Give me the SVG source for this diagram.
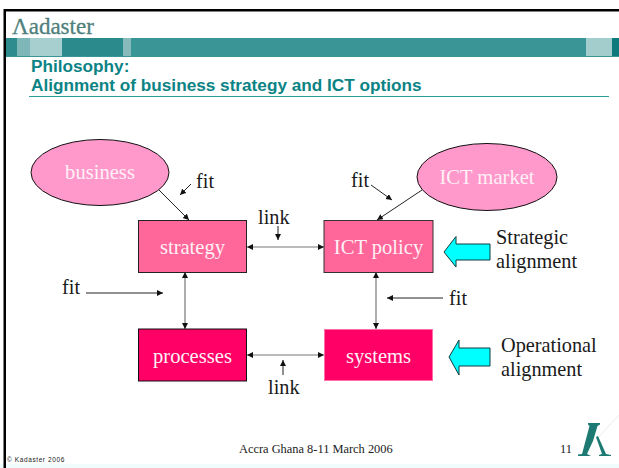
<svg xmlns="http://www.w3.org/2000/svg" width="619" height="468" viewBox="0 0 619 468">
<style>
.n{font-family:"Liberation Serif","Times New Roman",serif;font-size:20.6px;fill:#fff0f6;text-anchor:middle}
.t{font-family:"Liberation Serif","Times New Roman",serif;font-size:20.3px;fill:#1a1a1a}
.h{font-family:"Liberation Sans",Arial,sans-serif;font-size:17.2px;font-weight:bold;fill:#0b8385}
.f{font-family:"Liberation Serif","Times New Roman",serif;font-size:12.4px;fill:#222}
.c{stroke:#222;stroke-width:1;fill:none;marker-end:url(#a)}
.d{stroke:#777;stroke-width:1.2;fill:none;marker-start:url(#b);marker-end:url(#a)}
.bl{fill:#00ffff;stroke:#0c3c3c;stroke-width:1}
</style>
<defs>
<marker id="a" markerUnits="userSpaceOnUse" markerWidth="7" markerHeight="7" refX="6" refY="3" orient="auto"><path d="M0 0L6 3L0 6z" fill="#111"/></marker>
<marker id="b" markerUnits="userSpaceOnUse" markerWidth="7" markerHeight="7" refX="0" refY="3" orient="auto"><path d="M6 0L0 3L6 6z" fill="#111"/></marker>
</defs>
<rect width="619" height="468" fill="#fff"/>
<rect x="0" y="464" width="619" height="4" fill="#f0fcfc"/>
<g id="frame">
<rect x="4" y="9" width="615" height="2.500" fill="#000"/>
<rect x="3.500" y="9" width="2.500" height="459" fill="#000"/>
</g>
<g id="header">
<text x="12" y="34" font-family="'Liberation Serif',serif" font-size="23" fill="#4f7f7c" stroke="#4f7f7c" stroke-width="0.3">Λadaster</text>
<rect x="6" y="38" width="613" height="19" fill="#3a9597"/>
<rect x="6" y="38" width="11" height="18" fill="#2f8c8e"/>
<rect x="17" y="38" width="13" height="18" fill="#7fb6b8"/>
<rect x="30" y="38" width="32" height="18" fill="#a8cfd0"/>
<rect x="62" y="38" width="61" height="18" fill="#2a8a8c"/>
<rect x="123" y="38" width="8" height="18" fill="#86babb"/>
<rect x="586" y="38" width="26" height="18" fill="#a3cccc"/>
<rect x="612" y="38" width="7" height="18" fill="#0f7a7c"/>
<text class="h" x="31" y="72">Philosophy:</text>
<text class="h" x="31" y="91">Alignment of business strategy and ICT options</text>
<rect x="29" y="96" width="580" height="1" fill="#2a9d9d"/>
</g>
<g id="connectors">
<path class="c" d="M159 190L189 220"/>
<path class="c" d="M191 184L180 195"/>
<path class="c" d="M422 190L377 220"/>
<path class="c" d="M371 185L392 200"/>
<path class="c" d="M278 226L278 240"/>
<path class="d" d="M247 247L324 247"/>
<path class="d" d="M185 272L185 329"/>
<path class="d" d="M376 272L376 329"/>
<path class="c" d="M86 293L163 293"/>
<path class="c" d="M443 298L387 298"/>
<path class="d" d="M247 355L324 355"/>
<path class="c" d="M283 375L283 360"/>
</g>
<g id="business"><ellipse cx="100" cy="172.500" rx="69" ry="33" fill="#ff99cc" stroke="#111"/><text class="n" x="100" y="179">business</text></g>
<g id="ict-market"><ellipse cx="487" cy="177" rx="70" ry="33.500" fill="#ff99cc" stroke="#111"/><text class="n" x="487" y="184">ICT market</text></g>
<g id="strategy"><rect x="138.500" y="220.500" width="108" height="52" fill="#ff6699" stroke="#222"/><text class="n" x="192.500" y="254">strategy</text></g>
<g id="ict-policy"><rect x="324" y="220.500" width="109" height="52" fill="#ff6699" stroke="#333"/><text class="n" x="378.500" y="254">ICT policy</text></g>
<g id="processes"><rect x="138.500" y="329" width="108" height="52" fill="#ff0066" stroke="#111"/><text class="n" x="192.500" y="363">processes</text></g>
<g id="systems"><rect x="324.500" y="329.500" width="108" height="51" fill="#ff0066" stroke="#ff6ea8"/><text class="n" x="378.500" y="363">systems</text></g>
<g id="strategic-arrow"><path class="bl" d="M444 252L456 236.500V244H490V260H456V267z"/></g>
<g id="operational-arrow"><path class="bl" d="M449 357L459 340V348H490V366H459V375z"/></g>
<g id="labels">
<text class="t" x="196" y="188">fit</text>
<text class="t" x="351" y="187">fit</text>
<text class="t" x="258" y="224">link</text>
<text class="t" x="62" y="294">fit</text>
<text class="t" x="449" y="305">fit</text>
<text class="t" x="268" y="394">link</text>
<text class="t" x="496" y="244">Strategic</text>
<text class="t" x="496" y="268">alignment</text>
<text class="t" x="501" y="352">Operational</text>
<text class="t" x="501" y="376">alignment</text>
</g>
<g id="footer">
<text class="f" x="239" y="453">Accra Ghana 8-11 March 2006</text>
<text class="f" x="560" y="453">11</text>
<text x="7" y="462" font-family="'Liberation Sans',sans-serif" font-size="6.500" letter-spacing="0.600" fill="#222">© Kadaster 2006</text>
<path d="M619 415L596 440" stroke="#ececec" fill="none"/>
<path d="M588 423H600V424.500L597.500 426L593 441L587 454L591 456H578V454.500L582 454L589.500 426L588 424.500z" fill="#1d7a72"/>
<path d="M596 437L598 436L606 454L611 455V456H599V455L602 454z" fill="#1d7a72"/>
</g>
</svg>
